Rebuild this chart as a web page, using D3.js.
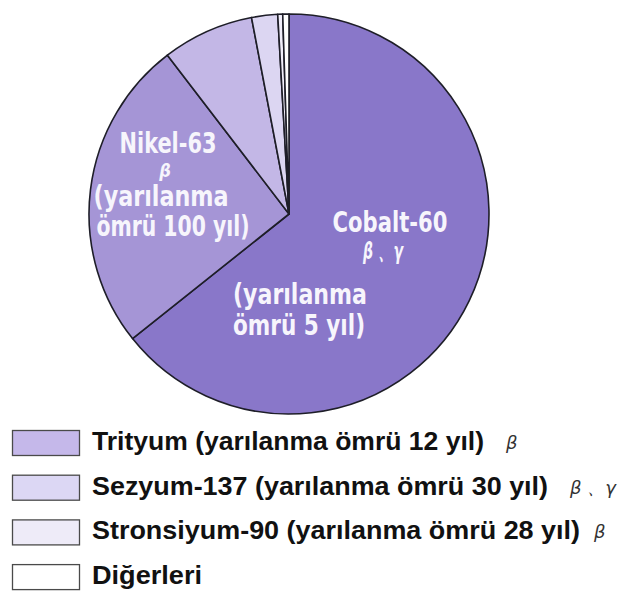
<!DOCTYPE html>
<html>
<head>
<meta charset="utf-8">
<script src="https://cdn.jsdelivr.net/npm/d3@7/dist/d3.min.js"></script>
<style>
  body { margin: 0; background: #fff; }
</style>
</head>
<body>
<div id="chart"></div>
<script>
// slice data, clockwise from 12 o'clock
var names = ["Cobalt-60", "Nikel-63", "Trityum", "Sezyum-137", "Stronsiyum-90", "Diğerleri"];
var shares = [64.3, 25.3, 7.4, 2.1, 0.4, 0.5];
var fills = ["#8977c9", "#a595d6", "#c3b7e6", "#dcd6f2", "#f1eefa", "#ffffff"];

// legend rows
var legendNames = ["Trityum (yarılanma ömrü 12 yıl)", "Sezyum-137 (yarılanma ömrü 30 yıl)",
                   "Stronsiyum-90 (yarılanma ömrü 28 yıl)", "Diğerleri"];
var legendRays = ["β", "β 、γ", "β", ""];
var legendFills = ["#c5b8ea", "#dcd7f4", "#eeebf8", "#ffffff"];

// labels written on the two big slices
var cobaltLines = ["Cobalt-60", "β 、γ", "(yarılanma", "ömrü 5 yıl)"];
var nikelLines = ["Nikel-63", "β", "(yarılanma", "ömrü 100 yıl)"];

var width = 620, height = 606;
var cx = 289, cy = 214, radius = 200;

var svg = d3.select("#chart").append("svg")
    .attr("width", width)
    .attr("height", height);

var pie = d3.pie().sort(null).value(function(d){ return d; });
var arc = d3.arc().innerRadius(0).outerRadius(radius);

var g = svg.append("g").attr("transform", "translate(" + cx + "," + cy + ")");

g.selectAll(".slice")
    .data(pie(shares))
    .enter()
    .append("path")
    .attr("class", "slice")
    .attr("d", arc)
    .attr("fill", function(d, i){ return fills[i]; })
    .attr("stroke", "#1e1e28")
    .attr("stroke-width", 1.6)
    .attr("stroke-linejoin", "round");

// slice labels (white, condensed bold)
var labelFont = "'Liberation Sans Narrow', 'Arial Narrow', 'DejaVu Sans Condensed', sans-serif";

var nikelPos = [
    {x: 168, y: 153, w: 97, size: 28, italic: false},
    {x: 165, y: 176.5, w: 0, size: 18, italic: true},
    {x: 161, y: 206, w: 135, size: 28, italic: false},
    {x: 173, y: 236, w: 153, size: 28, italic: false}
];
var cobaltPos = [
    {x: 390, y: 232, w: 115, size: 28, italic: false},
    {x: 383, y: 259, w: 40, size: 23, italic: true},
    {x: 300, y: 304, w: 134, size: 28, italic: false},
    {x: 299, y: 335, w: 132, size: 28, italic: false}
];

function drawLines(lines, pos) {
    svg.selectAll(null)
        .data(lines)
        .enter()
        .append("text")
        .attr("x", function(d, i){ return pos[i].x; })
        .attr("y", function(d, i){ return pos[i].y; })
        .attr("text-anchor", "middle")
        .attr("font-family", labelFont)
        .attr("font-weight", "bold")
        .attr("font-style", function(d, i){ return pos[i].italic ? "italic" : "normal"; })
        .attr("font-size", function(d, i){ return pos[i].size + "px"; })
        .attr("fill", "#f7f5fc")
        .each(function(d, i){
            if (pos[i].w > 0) {
                d3.select(this).attr("textLength", pos[i].w).attr("lengthAdjust", "spacingAndGlyphs");
            }
        })
        .text(function(d){ return d; });
}
drawLines(nikelLines, nikelPos);
drawLines(cobaltLines, cobaltPos);

// legend
var legendTop = 430, legendStep = 44.7;
var legendWidths = [392, 456, 488, 110];
var rayX = [506, 570, 594, 0];

var rows = svg.selectAll(".legend_row")
    .data(legendNames)
    .enter()
    .append("g")
    .attr("class", "legend_row")
    .attr("transform", function(d, i){ return "translate(0," + (legendTop + i * legendStep) + ")"; });

rows.append("rect")
    .attr("x", 12.5)
    .attr("y", 0.5)
    .attr("width", 67)
    .attr("height", 25)
    .attr("fill", function(d, i){ return legendFills[i]; })
    .attr("stroke", "#4a4a4a")
    .attr("stroke-width", 1.3);

rows.append("text")
    .attr("x", 92)
    .attr("y", 20)
    .attr("font-family", "'Liberation Sans', Arial, sans-serif")
    .attr("font-weight", "bold")
    .attr("font-size", "25px")
    .attr("fill", "#111")
    .attr("textLength", function(d, i){ return legendWidths[i]; })
    .attr("lengthAdjust", "spacingAndGlyphs")
    .text(function(d){ return d; });

rows.append("text")
    .attr("x", function(d, i){ return rayX[i]; })
    .attr("y", 19)
    .attr("font-family", "'DejaVu Sans', sans-serif")
    .attr("font-style", "italic")
    .attr("font-size", "18px")
    .attr("fill", "#333")
    .text(function(d, i){ return legendRays[i]; });
</script>
</body>
</html>
